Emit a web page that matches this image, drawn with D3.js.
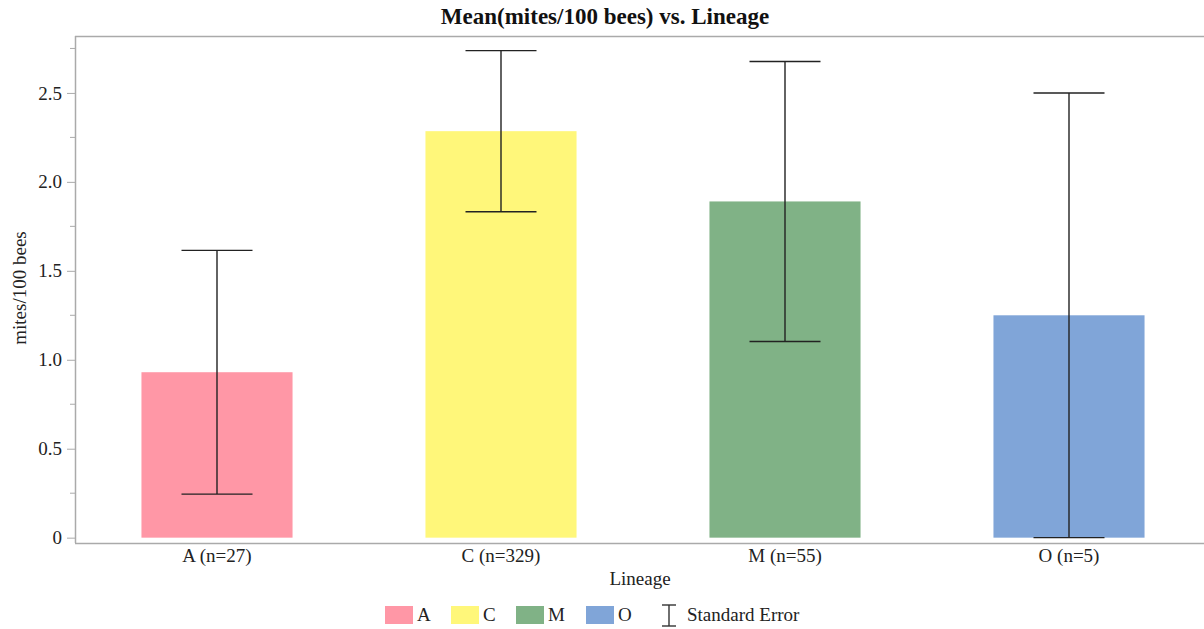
<!DOCTYPE html>
<html>
<head>
<meta charset="utf-8">
<script src="https://cdn.jsdelivr.net/npm/d3@7"></script>
<style>
  html, body { margin: 0; padding: 0; background: #fff; }
  svg { display: block; }
  svg text { font-family: "Liberation Serif", "Times New Roman", serif; }
</style>
</head>
<body>
<svg id="chart" width="1204" height="629"></svg>
<script>
// Mean mites per 100 bees by honey bee lineage, with standard error
const lineages = ["A", "C", "M", "O"];
const counts = [27, 329, 55, 5];
const means = [0.93, 2.285, 1.89, 1.25];
const stdErrors = [0.685, 0.453, 0.787, 1.25];
const colors = ["#ff97a6", "#fff77a", "#80b286", "#80a5d8"];
const yTicks = [0, 0.5, 1.0, 1.5, 2.0, 2.5];
const yMinorTicks = [0.25, 0.75, 1.25, 1.75, 2.25, 2.75];

const svg = d3.select("#chart");
const frame = { left: 75, top: 36, right: 1211, bottom: 543 };
const fontSize = "19px";

const x = d3.scaleBand()
  .domain(lineages)
  .range([frame.left, frame.right])
  .paddingInner(0.468)
  .paddingOuter(0.234);

const y = d3.scaleLinear()
  .domain([-0.03, 2.82])
  .range([frame.bottom, frame.top]);

const axisColor = "#aaaaaa";

// Bars
svg.append("g").selectAll("rect")
  .data(lineages)
  .join("rect")
  .attr("x", d => x(d))
  .attr("width", x.bandwidth())
  .attr("y", (d, i) => y(means[i]))
  .attr("height", (d, i) => y(0) - y(means[i]))
  .attr("fill", (d, i) => colors[i]);

// Error bars
const capHalf = 35.5;
const eb = svg.append("g").attr("stroke", "#222").attr("stroke-width", 1.4);
lineages.forEach((d, i) => {
  const cx = x(d) + x.bandwidth() / 2;
  const lo = y(means[i] - stdErrors[i]);
  const hi = y(means[i] + stdErrors[i]);
  eb.append("line").attr("x1", cx).attr("x2", cx).attr("y1", lo).attr("y2", hi);
  eb.append("line").attr("x1", cx - capHalf).attr("x2", cx + capHalf).attr("y1", lo).attr("y2", lo);
  eb.append("line").attr("x1", cx - capHalf).attr("x2", cx + capHalf).attr("y1", hi).attr("y2", hi);
});

// Frame
svg.append("line").attr("x1", frame.left).attr("x2", frame.right)
  .attr("y1", frame.top + 0.5).attr("y2", frame.top + 0.5)
  .attr("stroke", axisColor).attr("stroke-width", 1.5);
svg.append("line").attr("x1", frame.right).attr("x2", frame.right)
  .attr("y1", frame.top).attr("y2", frame.bottom)
  .attr("stroke", axisColor).attr("stroke-width", 1.5);

// Y axis
const yAxis = svg.append("g")
  .attr("transform", `translate(${frame.left},0)`)
  .call(d3.axisLeft(y).tickValues(yTicks).tickSize(8).tickPadding(5)
    .tickFormat(d => d === 0 ? "0" : d3.format(".1f")(d)));
yAxis.select(".domain").attr("stroke", axisColor).attr("stroke-width", 1.5)
  .attr("d", `M0.5,${frame.top}V${frame.bottom}`);
yAxis.selectAll(".tick line").attr("stroke", axisColor);
yAxis.selectAll(".tick text").attr("fill", "#222").style("font-size", fontSize);

svg.append("g").selectAll("line")
  .data(yMinorTicks)
  .join("line")
  .attr("x1", frame.left - 5).attr("x2", frame.left)
  .attr("y1", d => y(d)).attr("y2", d => y(d))
  .attr("stroke", axisColor);

// X axis
const xAxis = svg.append("g")
  .attr("transform", `translate(0,${frame.bottom})`)
  .call(d3.axisBottom(x).tickSize(0).tickPadding(6)
    .tickFormat((d, i) => `${d} (n=${counts[i]})`));
xAxis.select(".domain").attr("stroke", axisColor).attr("stroke-width", 1.5)
  .attr("d", `M${frame.left},0.5H${frame.right}`);
xAxis.selectAll(".tick text").attr("fill", "#222").style("font-size", fontSize);

// Titles
svg.append("text")
  .attr("x", 605).attr("y", 24)
  .attr("text-anchor", "middle")
  .attr("font-weight", "bold")
  .style("font-size", "23px")
  .attr("fill", "#111")
  .text("Mean(mites/100 bees) vs. Lineage");

svg.append("text")
  .attr("x", 640).attr("y", 585)
  .attr("text-anchor", "middle")
  .style("font-size", fontSize)
  .attr("fill", "#222")
  .text("Lineage");

svg.append("text")
  .attr("transform", "translate(26,288) rotate(-90)")
  .attr("text-anchor", "middle")
  .style("font-size", fontSize)
  .attr("fill", "#222")
  .text("mites/100 bees");

// Legend
const legendX = [385, 451, 516, 586];
const legend = svg.append("g");
lineages.forEach((d, i) => {
  legend.append("rect")
    .attr("x", legendX[i]).attr("y", 606)
    .attr("width", 28).attr("height", 18)
    .attr("fill", colors[i]);
  legend.append("text")
    .attr("x", legendX[i] + 32).attr("y", 621)
    .style("font-size", fontSize).attr("fill", "#222")
    .text(d);
});
const ex = 669;
const icon = legend.append("g").attr("stroke", "#333").attr("stroke-width", 1.4);
icon.append("line").attr("x1", ex).attr("x2", ex).attr("y1", 605).attr("y2", 626);
icon.append("line").attr("x1", ex - 7).attr("x2", ex + 7).attr("y1", 605).attr("y2", 605);
icon.append("line").attr("x1", ex - 7).attr("x2", ex + 7).attr("y1", 626).attr("y2", 626);
legend.append("text")
  .attr("x", 687).attr("y", 621)
  .style("font-size", fontSize).attr("fill", "#222")
  .text("Standard Error");
</script>
</body>
</html>
